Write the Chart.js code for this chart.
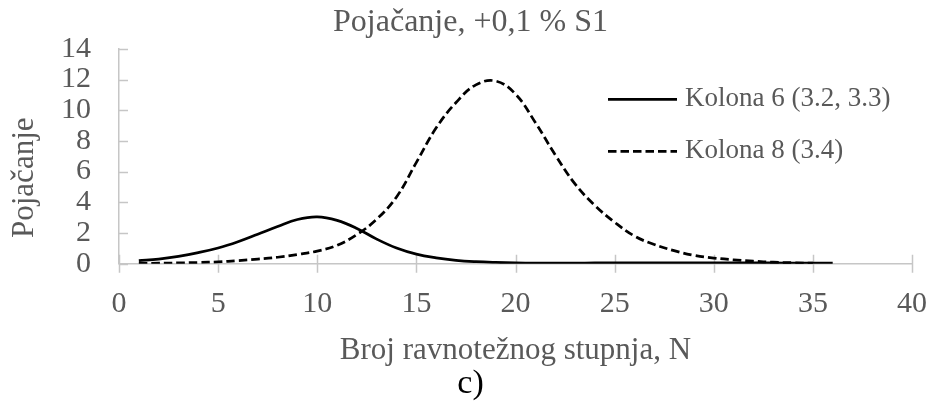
<!DOCTYPE html>
<html>
<head>
<meta charset="utf-8">
<script src="https://cdn.jsdelivr.net/npm/chart.js@4.4.0/dist/chart.umd.min.js"></script>
<style>
  html, body { margin: 0; padding: 0; background: #fff; }
  #wrap { width: 932px; height: 401px; }
</style>
</head>
<body>
<div id="wrap"><canvas id="myChartLine"></canvas></div>
<script>
const ctxLine = document.getElementById('myChartLine');

// stage numbers and gain for each column
const stages6 = [1,2,3,4,5,6,7,8,9,10,11,12,13,14,15,16,17,18,19,20,21,22,23,24,25,26,27,28,29,30,31,32,33,34,35,36];
const gain6 = [0.2,0.3,0.48,0.72,1.02,1.43,1.92,2.42,2.88,3.05,2.82,2.3,1.6,1.02,0.62,0.38,0.22,0.13,0.08,0.05,0.04,0.04,0.04,0.05,0.05,0.06,0.06,0.06,0.06,0.06,0.05,0.05,0.05,0.04,0.04,0.03];
const stages8 = [1,2,3,4,5,6,7,8,9,10,11,12,13,14,15,16,17,18,19,20,21,22,23,24,25,26,27,28,29,30,31,32,33,34,35];
const gain8 = [0.02,0.03,0.05,0.08,0.12,0.2,0.3,0.42,0.6,0.82,1.2,1.9,2.9,4.35,6.6,8.85,10.5,11.65,11.9,11.05,9.2,7.1,5.2,3.8,2.7,1.8,1.25,0.85,0.55,0.37,0.25,0.16,0.1,0.06,0.03];

const xTicks = [0,5,10,15,20,25,30,35,40];
const yTicks = [0,2,4,6,8,10,12,14];
const yTitle = 'Pojačanje';

const textGray = '#595959';
const axisGray = '#c6c6c6';
const serif = "'Liberation Serif', 'Times New Roman', serif";

function toPoints(xs, ys) {
    let pts = [];
    for (let i = 0; i < xs.length; i++) {
        pts.push({ x: xs[i], y: ys[i] });
    }
    return pts;
}

// short tick marks: crossing on the x axis, inward on the y axis
const tickMarks = {
    id: 'tickMarks',
    beforeDatasetsDraw(chart) {
        const c = chart.ctx;
        const xs = chart.scales.x, ys = chart.scales.y;
        c.save();
        c.strokeStyle = axisGray;
        c.lineWidth = 1.5;
        c.beginPath();
        xTicks.forEach(v => {
            const px = Math.round(xs.getPixelForValue(v)) + 0.5;
            c.moveTo(px, ys.bottom - 9);
            c.lineTo(px, ys.bottom + 9);
        });
        yTicks.forEach(v => {
            const py = Math.round(ys.getPixelForValue(v)) + 0.5;
            c.moveTo(xs.left, py);
            c.lineTo(xs.left + 9, py);
        });
        c.stroke();
        c.restore();
    }
};

// y title sits a little below the middle of the axis
const sideTitle = {
    id: 'sideTitle',
    afterDraw(chart) {
        const c = chart.ctx;
        const area = chart.chartArea;
        c.save();
        c.translate(25, area.top + (area.bottom - area.top) * 0.6);
        c.rotate(-Math.PI / 2);
        c.font = '31px ' + serif;
        c.fillStyle = textGray;
        c.textAlign = 'center';
        c.textBaseline = 'middle';
        c.fillText(yTitle, 0, 0);
        c.restore();
    }
};

// legend drawn inside the plot, to the right
const innerLegend = {
    id: 'innerLegend',
    afterDraw(chart) {
        const c = chart.ctx;
        const area = chart.chartArea;
        c.save();
        c.font = '27px ' + serif;
        c.textBaseline = 'middle';
        chart.data.datasets.forEach((ds, i) => {
            const y = area.top + 50.5 + i * 52;
            const x0 = area.right - 304;
            c.strokeStyle = ds.borderColor;
            c.lineWidth = ds.borderWidth;
            c.setLineDash(ds.borderDash || []);
            c.beginPath();
            c.moveTo(x0, y);
            c.lineTo(x0 + 69, y);
            c.stroke();
            c.setLineDash([]);
            c.fillStyle = textGray;
            c.fillText(ds.label, x0 + 77, y);
        });
        c.restore();
    }
};

new Chart(ctxLine, {
    type: 'line',
    data: {
        datasets: [{
            label: 'Kolona 6 (3.2, 3.3)',
            data: toPoints(stages6, gain6),
            borderColor: '#000',
            borderWidth: 2.75,
            pointRadius: 0,
            tension: 0.4,
            fill: false
        }, {
            label: 'Kolona 8 (3.4)',
            data: toPoints(stages8, gain8),
            borderColor: '#000',
            borderWidth: 2.75,
            borderDash: [8.5, 4],
            pointRadius: 0,
            tension: 0.4,
            fill: false
        }]
    },
    options: {
        responsive: true,
        maintainAspectRatio: false,
        animation: false,
        layout: { padding: { left: 9, right: 0, top: 0, bottom: 0 } },
        plugins: {
            legend: { display: false },
            tooltip: { enabled: false },
            title: {
                display: true,
                text: 'Pojačanje, +0,1 % S1',
                color: textGray,
                font: { family: serif, size: 32, weight: 'normal' },
                padding: { top: 3, bottom: 7.4 }
            },
            subtitle: {
                display: true,
                position: 'bottom',
                text: 'c)',
                color: '#000',
                font: { family: serif, size: 34, weight: 'normal', lineHeight: 1.0 },
                padding: { top: 0, bottom: 0 }
            }
        },
        scales: {
            x: {
                type: 'linear',
                min: 0,
                max: 40,
                afterBuildTicks: (axis) => { axis.ticks = xTicks.map(v => ({ value: v })); },
                afterFit: (axis) => { axis.paddingRight = 20; },
                grid: { display: false },
                border: { display: true, color: axisGray, width: 1.5 },
                ticks: { color: textGray, font: { family: serif, size: 30 }, padding: 14.7, maxRotation: 0, autoSkip: false },
                title: {
                    display: true,
                    text: 'Broj ravnotežnog stupnja, N',
                    color: textGray,
                    font: { family: serif, size: 31 },
                    padding: { top: -4.8, bottom: -2.5 }
                }
            },
            y: {
                min: 0,
                max: 14,
                afterBuildTicks: (axis) => { axis.ticks = yTicks.map(v => ({ value: v })); },
                afterFit: (axis) => { axis.width += 32; },
                grid: { display: false },
                border: { display: true, color: axisGray, width: 1.5 },
                ticks: { color: textGray, font: { family: serif, size: 30 }, padding: 20, autoSkip: false }
            }
        }
    },
    plugins: [tickMarks, sideTitle, innerLegend]
});
</script>
</body>
</html>
